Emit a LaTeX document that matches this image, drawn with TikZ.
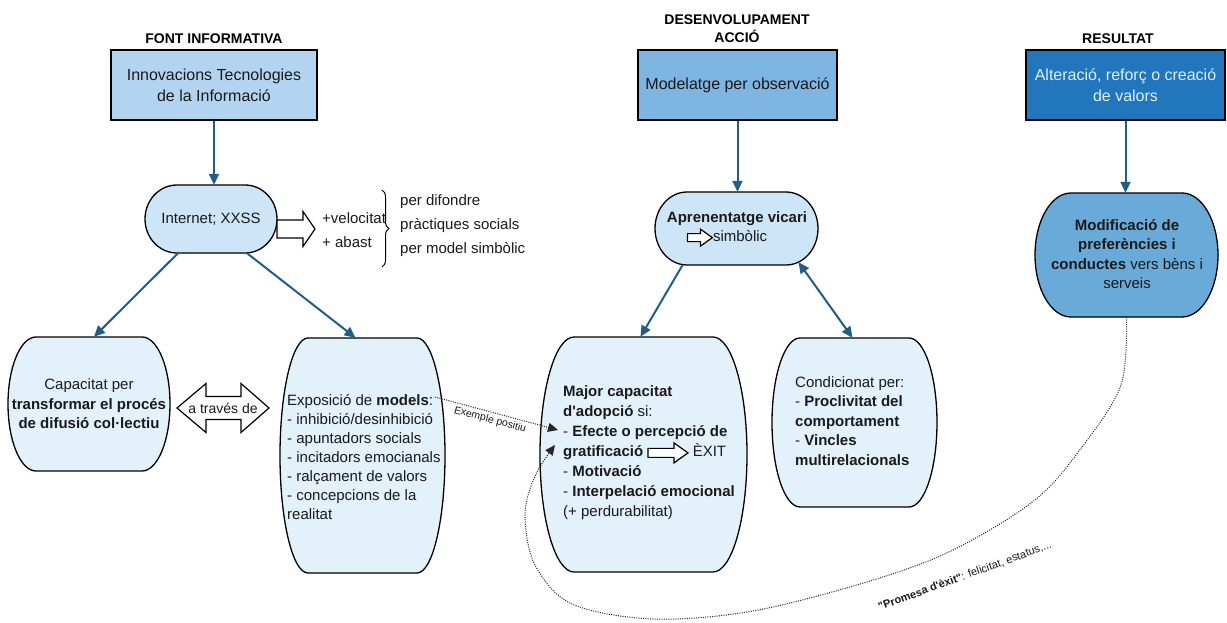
\documentclass[tikz,border=0pt]{standalone}
\usepackage{fontspec}
\defaultfontfeatures[\rmfamily]{}
\setmainfont{Liberation Sans}
\usetikzlibrary{arrows.meta,calc,decorations.pathreplacing}

\definecolor{txtcol}{HTML}{1A1A1A}
\definecolor{conncol}{HTML}{205E89}
\definecolor{srccol}{HTML}{B3D4F1}
\definecolor{devcol}{HTML}{7FB5E2}
\definecolor{rescol}{HTML}{2176BC}
\definecolor{restxt}{HTML}{DCEEFC}
\definecolor{palecol}{HTML}{E3F1FB}
\definecolor{midcol}{HTML}{CDE5F7}
\definecolor{modcol}{HTML}{6AAAD8}

\newcommand\fs[2]{\fontsize{#1}{#2}\selectfont}

% rounded "capsule" outline with elliptical ends, plus a named node covering it
\newcommand\capsule[7]{%
  \pgfmathsetmacro\cxl{#2-#4/2+#6}%
  \pgfmathsetmacro\cxr{#2+#4/2-#6}%
  \pgfmathsetmacro\ctop{#3+#5/2}%
  \pgfmathsetmacro\cbot{#3-#5/2}%
  \pgfmathsetmacro\cry{#5/2}%
  \draw[capsule line, fill=#7] (\cxl,\ctop) -- (\cxr,\ctop)
    arc[start angle=90, end angle=-90, x radius=#6pt, y radius=\cry pt]
    -- (\cxl,\cbot)
    arc[start angle=270, end angle=90, x radius=#6pt, y radius=\cry pt] -- cycle;
  \node[inner sep=0, minimum width=#4pt, minimum height=#5pt] (#1) at (#2,#3) {};
}

% small hollow block arrow set inside a line of text
\newcommand\blockarrow[4]{%
  \begin{tikzpicture}[baseline=-4pt, x=1pt, y=1pt]
    \draw[hollow] (0,-#2) -- ({#1-#4},-#2) -- ({#1-#4},-#3) -- (#1,0)
      -- ({#1-#4},#3) -- ({#1-#4},#2) -- (0,#2) -- cycle;
  \end{tikzpicture}}

\tikzset{
  capsule line/.style={draw=black, line width=1.3pt},
  txt/.style={inner sep=0, text=txtcol, font=\fs{15}{19.5}},
  boxnode/.style={draw=black, line width=1.5pt, inner sep=0, minimum height=70pt,
    text=txtcol, font=\fs{16}{21}, align=center},
  head/.style={inner sep=0, font=\bfseries\fs{14}{18}, text=black, align=center},
  conn/.style={draw=conncol, line width=2pt, -{Triangle[length=11pt,width=10pt]}},
  conn2/.style={draw=conncol, line width=2pt,
    {Triangle[length=11pt,width=10pt]}-{Triangle[length=11pt,width=10pt]}},
  dotline/.style={draw=black!85, line width=1pt, dash pattern=on 1pt off 1.3pt,
    -{Triangle[length=10pt,width=9pt]}},
  hollow/.style={draw=black, line width=1.2pt, fill=white, line join=miter},
  small/.style={inner sep=0, text=txtcol, font=\fs{10.5}{12}},
}

\begin{document}
\begin{tikzpicture}[x=1pt, y=1pt]
\useasboundingbox (0,0) rectangle (1227,-623);
\fill[white] (0,0) rectangle (1227,-623);

% column headings
\node[head] (h1) at (214,-39) {FONT INFORMATIVA};
\node[head] (h2) at (737,-29) {DESENVOLUPAMENT\\ACCIÓ};
\node[head] (h3) at (1118,-39) {RESULTAT};

% top boxes
\node[boxnode, fill=srccol, minimum width=206pt] (src) at (214,-85)
  {Innovacions Tecnologies\\de la Informació};
\node[boxnode, fill=devcol, minimum width=199pt] (dev) at (737.5,-85)
  {Modelatge per observació};
\node[boxnode, fill=rescol, minimum width=199pt, text=restxt] (res) at (1125.5,-85)
  {Alteració, reforç o creació\\de valors};

% capsules
\capsule{inet}{211}{-219}{132}{68}{32}{midcol}
\capsule{apr}{736.5}{-228.5}{163}{73}{32}{midcol}
\capsule{modif}{1126.5}{-255}{183}{124}{36}{modcol}
\capsule{cap}{89}{-404}{162}{134}{28}{palecol}
\capsule{expo}{362.5}{-455.5}{165}{235}{28}{palecol}
\capsule{maj}{643.5}{-454.5}{207}{235}{34}{palecol}
\capsule{cond}{854.5}{-422.5}{165}{169}{28}{palecol}

% capsule texts
\node[txt] (inetT) at (inet) {Internet; XXSS};
\node[txt, align=center] (aprT) at (737,-229)
  {\textbf{Aprenentatge vicari}\\\blockarrow{25}{4}{8.5}{12}simbòlic\hspace*{20pt}};
\node[txt, align=center, font=\fs{15}{19.3}] (modifT) at (1127,-254)
  {\textbf{Modificació de}\\\textbf{preferències i}\\\textbf{conductes} vers bèns i\\serveis};
\node[txt, align=center] (capT) at (89,-404)
  {Capacitat per\\\textbf{transformar el procés}\\\textbf{de difusió col·lectiu}};
\node[txt, align=left, anchor=west, font=\fs{15}{19}] (expoT) at (287,-457)
  {Exposició de \textbf{models}:\\- inhibició/desinhibició\\- apuntadors socials\\- incitadors emocianals\\- ralçament de valors\\- concepcions de la\\realitat};
\node[txt, align=left, anchor=west, font=\fs{15}{20}] (majT) at (563,-453)
  {\textbf{Major capacitat}\\\textbf{d'adopció} si:\\- \textbf{Efecte o percepció de}\\\textbf{gratificació} \blockarrow{40}{4.5}{10}{14} ÈXIT\\- \textbf{Motivació}\\- \textbf{Interpelació emocional}\\(+ perdurabilitat)};
\node[txt, align=left, anchor=west] (condT) at (795,-421)
  {Condicionat per:\\- \textbf{Proclivitat del}\\\textbf{comportament}\\- \textbf{Vincles}\\\textbf{multirelacionals}};

% speed and reach of the network
\draw[hollow] (277,-220) -- (303,-220) -- (303,-211.5) -- (315,-229)
  -- (303,-246.5) -- (303,-238) -- (277,-238) -- cycle;
\node[txt, align=left, anchor=west, font=\fs{15}{24}] (plus) at (322,-230)
  {+velocitat\\+ abast};
\draw[line width=1pt, decorate, decoration={brace, amplitude=7pt}]
  (382,-190) -- (382,-267);
\node[txt, align=left, anchor=west, font=\fs{15}{24}] (purpose) at (400,-226)
  {per difondre\\pràctiques socials\\per model simbòlic};

% double block arrow between capacity and models
\draw[hollow] (177,-408) -- (206,-383.5) -- (206,-396.5) -- (241,-396.5)
  -- (241,-383.5) -- (269,-408) -- (241,-432.5) -- (241,-419.5)
  -- (206,-419.5) -- (206,-432.5) -- cycle;
\node[txt, font=\fs{14}{17}] (via) at (223,-408) {a través de};

% connectors
\draw[conn] (src.south) -- (src.south |- inet.north);
\draw[conn] ($(inet.south)+(-33,0)$) -- ($(cap.north)+(5,0)$);
\draw[conn] ($(inet.south)+(36,0)$) -- ($(expo.north)+(-7,0)$);
\draw[conn] (dev.south) -- (dev.south |- apr.north);
\draw[conn] (res.south) -- (res.south |- modif.north);
\draw[conn] ($(apr.south)+(-54,0)$) -- ($(maj.north)+(-3,0)$);
\draw[conn2] ($(apr.south)+(62,3)$) -- ($(cond.north)+(-2,0)$);

% dotted relations
\coordinate (exA) at (435,-397);
\coordinate (exB) at (558,-430);
\coordinate (prB) at (555,-445);
\draw[dotline] (exA) -- (exB);
\node[small, rotate=-15] (exl) at (490,-420) {Exemple positiu};
\draw[dotline] plot[smooth, tension=0.55] coordinates {(modif.south) (1121,-385)
  (1082,-447) (1035,-500) (953,-550) (870,-581) (753,-611) (653,-619)
  (572,-604) (535,-565) (525,-515) (535,-476) (prB)};
\node[small, font=\fs{11}{13}, rotate=20] (prl) at (965,-576)
  {\textbf{"Promesa d'èxit"}: felicitat, estatus,...};
\end{tikzpicture}
\end{document}
